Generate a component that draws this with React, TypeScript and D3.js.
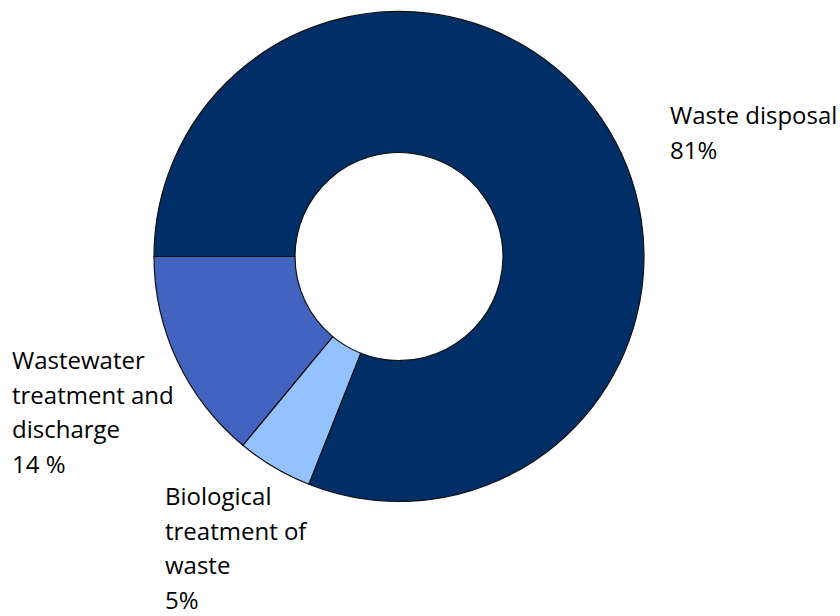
import React from "react";
import * as d3 from "d3";

// Slices in drawing order, clockwise from 9 o'clock
const categories = ["Waste disposal", "Biological treatment of waste", "Wastewater treatment and discharge"];
const values = [81, 5, 14];
const colors = ["#002E66", "#94C1FF", "#4363C1"];
// Label text, one entry per line
const labelLines = [
  ["Waste disposal", "81%"],
  ["Biological", "treatment of", "waste", "5%"],
  ["Wastewater", "treatment and", "discharge", "14 %"],
];
// Top-left anchor (x, first baseline) of each label block
const labelAnchors: [number, number][] = [
  [670, 124],
  [165, 505],
  [12, 369],
];

const W = 840;
const H = 616;
const cx = 399;
const cy = 256.5;
const outerR = 245;
const innerR = 104;
const lineGap = 34.5;

export default function App() {
  const data = categories.map((c, i) => ({ name: c, value: values[i], color: colors[i] }));
  const pie = d3
    .pie<{ name: string; value: number; color: string }>()
    .sort(null)
    .value((d) => d.value)
    .startAngle(-Math.PI / 2)
    .endAngle((3 * Math.PI) / 2);
  const arc = d3
    .arc<d3.PieArcDatum<{ name: string; value: number; color: string }>>()
    .innerRadius(innerR)
    .outerRadius(outerR);
  const arcs = pie(data);

  return (
    <svg
      width={W}
      height={H}
      style={{ position: "absolute", left: 0, top: 0, background: "#fff" }}
    >
      <g transform={`translate(${cx},${cy})`}>
        {arcs.map((a, i) => (
          <path key={i} d={arc(a) || ""} fill={a.data.color} stroke="#111" strokeWidth={1.2} />
        ))}
      </g>
      <g fontFamily="'Open Sans', 'Noto Sans', sans-serif" fontSize={24} fill="#000">
        {labelLines.map((lines, i) => (
          <text key={i} x={labelAnchors[i][0]} y={labelAnchors[i][1]}>
            {lines.map((l, j) => (
              <tspan key={j} x={labelAnchors[i][0]} dy={j === 0 ? 0 : lineGap}>
                {l}
              </tspan>
            ))}
          </text>
        ))}
      </g>
    </svg>
  );
}
